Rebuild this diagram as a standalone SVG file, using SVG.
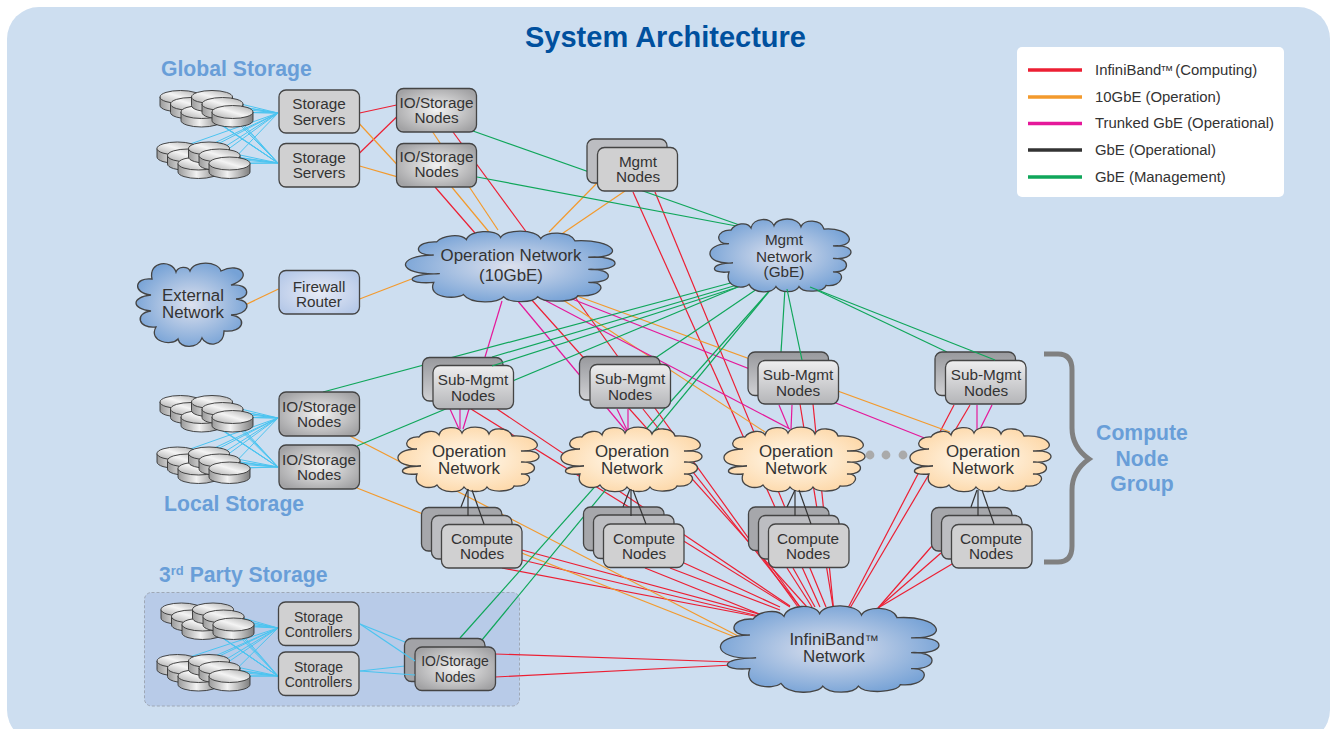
<svg xmlns="http://www.w3.org/2000/svg" width="1334" height="729" viewBox="0 0 1334 729">
<style>
text{font-family:"Liberation Sans",Arial,sans-serif;fill:#333;text-anchor:middle}
.n153{font-size:15.3px}.n14{font-size:14px}.n17{font-size:16.9px}
.h{font-weight:bold;fill:#699ed8;font-size:21.2px}
.start{text-anchor:start}
.lg{font-size:14.9px;text-anchor:start}
.bx{stroke:#444;stroke-width:1.3}
.flat{fill:#d0d0d1}.io{fill:url(#ioG)}.fw{fill:url(#fwG)}
.b1{fill:#a6a7ab}.b2{fill:#bcbdc1}.bm{fill:url(#backG)}.sm{fill:url(#subG)}
.cl{stroke:#444;stroke-width:1.3}
.cb{fill:url(#blueG)}.co{fill:url(#orangeG)}
line,.fan{stroke-width:1.2;fill:none}
.r{stroke:#ec1f33}.o{stroke:#f39a2d}.m{stroke:#e5189a}.k{stroke:#333}.g{stroke:#0fa65a}.c{stroke:#4cc4f0}
.fan{stroke:#4cc4f0;stroke-width:1}
.leg{stroke-width:3.5}
</style>
<defs>
<linearGradient id="diskSide" x1="0" x2="1" y1="0" y2="0"><stop offset="0" stop-color="#9a9a9a"/><stop offset=".45" stop-color="#f2f2f2"/><stop offset="1" stop-color="#7e7e7e"/></linearGradient>
<linearGradient id="diskTop" x1="0" x2="1" y1="1" y2="0"><stop offset="0" stop-color="#a8a8a8"/><stop offset=".5" stop-color="#f4f4f4"/><stop offset="1" stop-color="#a8a8a8"/></linearGradient>
<radialGradient id="ioG" cx=".5" cy=".5" r=".6"><stop offset="0" stop-color="#f2f2f2"/><stop offset="1" stop-color="#a2a2a4"/></radialGradient>
<radialGradient id="fwG" cx=".5" cy=".5" r=".6"><stop offset="0" stop-color="#e8ebf6"/><stop offset="1" stop-color="#b6c9e8"/></radialGradient>
<linearGradient id="backG" x1="0" x2="0" y1="0" y2="1"><stop offset="0" stop-color="#98999d"/><stop offset="1" stop-color="#d0d1d4"/></linearGradient>
<linearGradient id="subG" x1="0" x2="0" y1="0" y2="1"><stop offset="0" stop-color="#eeeeef"/><stop offset="1" stop-color="#b4b5b8"/></linearGradient>
<radialGradient id="blueG" cx=".5" cy=".5" r=".55"><stop offset="0" stop-color="#dde1ee"/><stop offset="1" stop-color="#76a2d6"/></radialGradient>
<radialGradient id="orangeG" cx=".5" cy=".5" r=".55"><stop offset="0" stop-color="#fffbf2"/><stop offset="1" stop-color="#fdd8a9"/></radialGradient>
<path id="cloud" vector-effect="non-scaling-stroke" d="M18 21C3 22 5 8 20 9C24 3 36 1 40 7C42-2 60-3 63 5C66-3 87-3 90 6C93-1 110-1 113 8C140 6 149 24 122 23C146 21 146 36 122 34C140 33 140 47 122 46C136 45 132 60 115 58C113 64 92 65 88 59C85 65 69 65 65 59C62 65 43 66 38 57C33 62 13 60 18 46C-2 48-2 38 22 38C-8 40-8 21 18 21Z"/>
<path id="cloudX" vector-effect="non-scaling-stroke" d="M16 16C12-2 36-4 40 9C42 3 52 3 54 8C58-3 82-2 85 8C105-2 118 15 95 22C115 20 115 36 100 36C118 38 112 52 95 52C112 54 108 70 88 68C88 84 70 84 66 75C62 86 44 86 42 76C35 84 12 78 20 64C2 66-2 50 15 48C-5 46-5 34 15 32C-4 30-2 14 16 16Z"/>
<g id="disk"><path d="M0 6.500V15A20.500 6.500 0 0 0 41 15V6.500Z" fill="url(#diskSide)" stroke="#333" stroke-width=".9"/><ellipse cx="20.500" cy="6.500" rx="20.500" ry="6.500" fill="url(#diskTop)" stroke="#333" stroke-width=".9"/></g>
<g id="stack"><use href="#disk"/><use href="#disk" x="10.500" y="7"/><use href="#disk" x="21" y="15"/><use href="#disk" x="31.500"/><use href="#disk" x="42" y="7"/><use href="#disk" x="52" y="15"/></g>
</defs>

<rect x="7" y="7" width="1323" height="735" rx="32" fill="#cddef0"/>
<rect id="third-party-panel" x="144.500" y="592.500" width="375" height="113.500" rx="7" fill="#b8cbe8" stroke="#9fa8b6" stroke-dasharray="3 2"/>

<g id="connectors">
<path class="fan" d="M180.500 97L278 113M191 104L278 113M201.500 112L278 113M212 97L278 113M222.500 104L278 113M232.500 112L278 113M180.500 97L278 163M191 104L278 163M201.500 112L278 163M212 97L278 163M222.500 104L278 163M232.500 112L278 163M177.500 148.500L278 113M188 155.500L278 113M198.500 163.500L278 113M209 148.500L278 113M219.500 155.500L278 113M229.500 163.500L278 113M177.500 148.500L278 163M188 155.500L278 163M198.500 163.500L278 163M209 148.500L278 163M219.500 155.500L278 163M229.500 163.500L278 163"/>
<path class="fan" d="M180.500 402L278 418M191 409L278 418M201.500 417L278 418M212 402L278 418M222.500 409L278 418M232.500 417L278 418M180.500 402L278 467M191 409L278 467M201.500 417L278 467M212 402L278 467M222.500 409L278 467M232.500 417L278 467M177.500 453.500L278 418M188 460.500L278 418M198.500 468.500L278 418M209 453.500L278 418M219.500 460.500L278 418M229.500 468.500L278 418M177.500 453.500L278 467M188 460.500L278 467M198.500 468.500L278 467M209 453.500L278 467M219.500 460.500L278 467M229.500 468.500L278 467"/>
<path class="fan" d="M181.500 609.500L278 628M192 616.500L278 628M202.500 624.500L278 628M213 609.500L278 628M223.500 616.500L278 628M233.500 624.500L278 628M181.500 609.500L278 676M192 616.500L278 676M202.500 624.500L278 676M213 609.500L278 676M223.500 616.500L278 676M233.500 624.500L278 676M177.500 661L278 628M188 668L278 628M198.500 676L278 628M209 661L278 628M219.500 668L278 628M229.500 676L278 628M177.500 661L278 676M188 668L278 676M198.500 676L278 676M209 661L278 676M219.500 668L278 676M229.500 676L278 676"/>
<line class="c" x1="360" y1="624" x2="405" y2="642"/><line class="c" x1="360" y1="671" x2="405" y2="666"/>

<line class="r" x1="359.600" y1="113" x2="396.600" y2="105"/>
<line class="r" x1="359.600" y1="153" x2="396.600" y2="117"/>
<line class="r" x1="453" y1="132" x2="530" y2="237"/>
<line class="r" x1="435" y1="187" x2="475" y2="233"/>
<line class="r" x1="633" y1="192" x2="820" y2="607"/>
<line class="r" x1="655" y1="192" x2="826" y2="607"/>
<line class="r" x1="530" y1="298" x2="807" y2="607"/>
<line class="r" x1="575" y1="297" x2="798" y2="607"/>
<line class="r" x1="643" y1="409" x2="800" y2="607"/>
<line class="r" x1="471" y1="409" x2="790" y2="607"/>
<line class="r" x1="497" y1="409" x2="790" y2="606"/>
<line class="r" x1="800" y1="404" x2="834" y2="613"/>
<line class="r" x1="813" y1="404" x2="834" y2="613"/>
<line class="r" x1="954" y1="405" x2="848" y2="608"/>
<line class="r" x1="970" y1="405" x2="850" y2="608"/>
<line class="r" x1="932" y1="546" x2="878" y2="608"/>
<line class="r" x1="941" y1="553" x2="878" y2="608"/>
<line class="r" x1="952" y1="564" x2="878" y2="608"/>
<line class="r" x1="522" y1="550" x2="770" y2="617"/>
<line class="r" x1="522" y1="560" x2="763" y2="617"/>
<line class="r" x1="502" y1="568" x2="760" y2="617"/>
<line class="r" x1="645" y1="568" x2="767" y2="617"/>
<line class="r" x1="670" y1="568" x2="780" y2="610"/>
<line class="r" x1="684" y1="563" x2="780" y2="607"/>
<line class="r" x1="768" y1="562" x2="800" y2="607"/>
<line class="r" x1="787" y1="568" x2="812" y2="607"/>
<line class="r" x1="793" y1="568" x2="815" y2="607"/>
<line class="r" x1="495" y1="654" x2="733" y2="662"/>
<line class="r" x1="495" y1="677" x2="733" y2="665"/>

<line class="o" x1="359.600" y1="124" x2="396.600" y2="164"/>
<line class="o" x1="359.600" y1="166" x2="396.600" y2="176.700"/>
<line class="o" x1="432.700" y1="132" x2="498" y2="230"/>
<line class="o" x1="451.700" y1="187" x2="489" y2="232"/>
<line class="o" x1="245" y1="305" x2="278.500" y2="289"/>
<line class="o" x1="359.600" y1="299" x2="411.600" y2="279"/>
<line class="o" x1="597" y1="183" x2="549" y2="232"/>
<line class="o" x1="625" y1="191" x2="561.700" y2="234"/>
<line class="o" x1="577" y1="296" x2="950" y2="432"/>
<line class="o" x1="560" y1="298" x2="765" y2="432"/>
<line class="o" x1="350" y1="436" x2="740" y2="637"/>
<line class="o" x1="357" y1="488" x2="735" y2="637"/>

<line class="m" x1="502" y1="301" x2="485" y2="357"/>
<line class="m" x1="517" y1="300" x2="627" y2="432"/>
<line class="m" x1="567" y1="297" x2="927" y2="439"/>
<line class="m" x1="535" y1="295" x2="790" y2="429"/>
<line class="m" x1="450" y1="409" x2="459" y2="429"/>
<line class="m" x1="460" y1="409" x2="460" y2="429"/>
<line class="m" x1="469" y1="409" x2="463" y2="429"/>
<line class="m" x1="617" y1="409" x2="627" y2="430"/>
<line class="m" x1="628" y1="409" x2="628" y2="430"/>
<line class="m" x1="779" y1="405" x2="789" y2="429"/>
<line class="m" x1="792" y1="405" x2="791" y2="429"/>
<line class="m" x1="977" y1="405" x2="977" y2="431"/>
<line class="m" x1="992" y1="405" x2="979" y2="431"/>

<line class="g" x1="473" y1="131" x2="748" y2="228"/>
<line class="g" x1="477" y1="177" x2="747" y2="228"/>
<line class="g" x1="323" y1="392" x2="738" y2="281"/>
<line class="g" x1="357" y1="446" x2="745" y2="284"/>
<line class="g" x1="492" y1="357" x2="737" y2="285"/>
<line class="g" x1="645" y1="365" x2="757" y2="289"/>
<line class="g" x1="460" y1="638" x2="772" y2="288"/>
<line class="g" x1="477" y1="646" x2="772" y2="288"/>
<line class="g" x1="781" y1="352" x2="785" y2="289"/>
<line class="g" x1="947" y1="352" x2="808" y2="286"/>
</g>

<g id="global-storage-disks-1"><use href="#stack" x="160" y="90.500"/></g>
<g id="global-storage-disks-2"><use href="#stack" x="157" y="142"/></g>
<g id="local-storage-disks-1"><use href="#stack" x="160" y="395.500"/></g>
<g id="local-storage-disks-2"><use href="#stack" x="157" y="447"/></g>
<g id="third-party-disks-1"><use href="#stack" x="161" y="603"/></g>
<g id="third-party-disks-2"><use href="#stack" x="157" y="654.500"/></g>

<g id="storage-servers-1"><rect class="bx flat" x="279" y="90" width="80.500" height="43" rx="7"/><text class="n153" x="319" y="109">Storage</text><text class="n153" x="319" y="125">Servers</text></g>
<g id="storage-servers-2"><rect class="bx flat" x="279" y="143.500" width="80.500" height="43.500" rx="7"/><text class="n153" x="319" y="163">Storage</text><text class="n153" x="319" y="178">Servers</text></g>
<g id="io-storage-1"><rect class="bx io" x="396.500" y="88.500" width="80" height="43.500" rx="7"/><text class="n153" x="436.500" y="108">IO/Storage</text><text class="n153" x="436.500" y="123">Nodes</text></g>
<g id="io-storage-2"><rect class="bx io" x="396.500" y="143.500" width="80" height="43.500" rx="7"/><text class="n153" x="436.500" y="162">IO/Storage</text><text class="n153" x="436.500" y="177">Nodes</text></g>
<g id="firewall-router"><rect class="bx fw" x="279" y="270.500" width="80.500" height="43.500" rx="7"/><text class="n153" x="319" y="291.500">Firewall</text><text class="n153" x="319" y="306.500">Router</text></g>
<g id="external-network"><use class="cl cb" href="#cloudX" transform="translate(136 263)"/><text class="n17" x="193" y="301">External</text><text class="n17" x="193" y="318">Network</text></g>
<g id="operation-network"><use class="cl cb" href="#cloud" transform="translate(407 232) scale(1.486 1.097)"/><text class="n17" x="511" y="261">Operation Network</text><text class="n17" x="511" y="281">(10GbE)</text></g>
<g id="mgmt-nodes"><rect class="bx b2" x="587" y="139" width="80" height="44" rx="7"/><rect class="bx flat" x="597.500" y="147.500" width="80" height="43.500" rx="7"/><text class="n153" x="638" y="167">Mgmt</text><text class="n153" x="638" y="182">Nodes</text></g>
<g id="mgmt-network"><use class="cl cb" href="#cloud" transform="translate(711 220) scale(1 1.129)"/><text class="n153" x="784" y="245">Mgmt</text><text class="n153" x="784" y="262">Network</text><text class="n153" x="784" y="277">(GbE)</text></g>

<g id="sub-mgmt-1"><rect class="bx bm" x="422.500" y="357.500" width="80.500" height="43.500" rx="7"/><rect class="bx sm" x="433" y="365.500" width="80.500" height="43.500" rx="7"/><text class="n153" x="473" y="385">Sub-Mgmt</text><text class="n153" x="473" y="401">Nodes</text></g>
<g id="sub-mgmt-2"><rect class="bx bm" x="579.500" y="356.500" width="80.500" height="43.500" rx="7"/><rect class="bx sm" x="590" y="364.500" width="80.500" height="43.500" rx="7"/><text class="n153" x="630" y="384">Sub-Mgmt</text><text class="n153" x="630" y="400">Nodes</text></g>
<g id="sub-mgmt-3"><rect class="bx bm" x="748" y="352" width="80.500" height="43.500" rx="7"/><rect class="bx sm" x="758" y="360.500" width="80.500" height="43.500" rx="7"/><text class="n153" x="798" y="380">Sub-Mgmt</text><text class="n153" x="798" y="396">Nodes</text></g>
<g id="sub-mgmt-4"><rect class="bx bm" x="935" y="352" width="80.500" height="43.500" rx="7"/><rect class="bx sm" x="945.500" y="360.500" width="80.500" height="43.500" rx="7"/><text class="n153" x="986" y="380">Sub-Mgmt</text><text class="n153" x="986" y="396">Nodes</text></g>

<g id="operation-network-1"><use class="cl co" href="#cloud" x="399" y="428"/><text class="n17" x="469" y="457">Operation</text><text class="n17" x="469" y="474">Network</text></g>
<g id="operation-network-2"><use class="cl co" href="#cloud" x="562" y="428"/><text class="n17" x="632" y="457">Operation</text><text class="n17" x="632" y="474">Network</text></g>
<g id="operation-network-3"><use class="cl co" href="#cloud" x="725" y="428"/><text class="n17" x="796" y="457">Operation</text><text class="n17" x="796" y="474">Network</text></g>
<g id="operation-network-4"><use class="cl co" href="#cloud" x="911" y="428"/><text class="n17" x="983" y="457">Operation</text><text class="n17" x="983" y="474">Network</text></g>

<g id="ellipsis" fill="#aaaaaa"><circle cx="870" cy="455" r="4.400"/><circle cx="886" cy="455" r="4.400"/><circle cx="903" cy="455" r="4.400"/></g>

<g id="compute-nodes-1"><rect class="bx b1" x="421.500" y="507.500" width="80.500" height="43.500" rx="7"/><rect class="bx b2" x="431.500" y="515.500" width="80.500" height="43.500" rx="7"/><rect class="bx flat" x="441.500" y="524.500" width="80.500" height="43.500" rx="7"/><text class="n153" x="482" y="544">Compute</text><text class="n153" x="482" y="559">Nodes</text></g>
<g id="compute-nodes-2"><rect class="bx b1" x="583.500" y="507" width="80.500" height="43.500" rx="7"/><rect class="bx b2" x="593.500" y="515" width="80.500" height="43.500" rx="7"/><rect class="bx flat" x="603.500" y="524" width="80.500" height="43.500" rx="7"/><text class="n153" x="644" y="544">Compute</text><text class="n153" x="644" y="559">Nodes</text></g>
<g id="compute-nodes-3"><rect class="bx b1" x="748.500" y="507" width="80.500" height="43.500" rx="7"/><rect class="bx b2" x="758.500" y="515.500" width="80.500" height="43.500" rx="7"/><rect class="bx flat" x="768.500" y="524" width="80.500" height="43.500" rx="7"/><text class="n153" x="808" y="544">Compute</text><text class="n153" x="808" y="559">Nodes</text></g>
<g id="compute-nodes-4"><rect class="bx b1" x="931.500" y="507.500" width="80.500" height="43.500" rx="7"/><rect class="bx b2" x="941.500" y="515.500" width="80.500" height="43.500" rx="7"/><rect class="bx flat" x="951.500" y="524.500" width="80.500" height="43.500" rx="7"/><text class="n153" x="991" y="544">Compute</text><text class="n153" x="991" y="559">Nodes</text></g>

<g id="local-io-storage-1"><rect class="bx io" x="279" y="392" width="80.500" height="44" rx="7"/><text class="n153" x="319" y="412">IO/Storage</text><text class="n153" x="319" y="427">Nodes</text></g>
<g id="local-io-storage-2"><rect class="bx io" x="279" y="445" width="80.500" height="44" rx="7"/><text class="n153" x="319" y="465">IO/Storage</text><text class="n153" x="319" y="480">Nodes</text></g>
<g id="storage-controllers-1"><rect class="bx flat" x="278.500" y="602" width="80.500" height="43.500" rx="7"/><text class="n14" x="318.500" y="622">Storage</text><text class="n14" x="318.500" y="637">Controllers</text></g>
<g id="storage-controllers-2"><rect class="bx flat" x="278.500" y="652" width="80.500" height="43.500" rx="7"/><text class="n14" x="318.500" y="672">Storage</text><text class="n14" x="318.500" y="687">Controllers</text></g>
<g id="third-party-io-storage"><rect class="bx" fill="#a2a3a7" x="404.500" y="638.500" width="80.500" height="43" rx="7"/><rect class="bx io" x="415" y="647" width="80.500" height="43.500" rx="7"/><text class="n14" x="455" y="666">IO/Storage</text><text class="n14" x="455" y="682">Nodes</text></g>
<g id="infiniband-network"><use class="cl cb" href="#cloud" transform="translate(722 607) scale(1.55 1.34)"/><text class="n17" x="834" y="645">InfiniBand<tspan font-size="14">™</tspan></text><text class="n17" x="834" y="662">Network</text></g>

<g id="connectors-over">
<line class="c" x1="360" y1="624" x2="415" y2="661"/>
<line class="c" x1="360" y1="671" x2="415" y2="675"/>
<line class="g" x1="492" y1="366" x2="738" y2="287"/>
<line class="g" x1="802" y1="360" x2="787" y2="289"/>
<line class="g" x1="995" y1="360" x2="810" y2="287"/>
<line class="k" x1="468" y1="489" x2="461" y2="507"/><line class="k" x1="468" y1="489" x2="468" y2="516"/><line class="k" x1="472" y1="490" x2="484" y2="524"/>
<line class="k" x1="630" y1="489" x2="623" y2="507"/><line class="k" x1="631" y1="489" x2="631" y2="516"/><line class="k" x1="633" y1="490" x2="646" y2="524"/>
<line class="k" x1="795" y1="490" x2="787" y2="507"/><line class="k" x1="795" y1="490" x2="795" y2="516"/><line class="k" x1="799" y1="490" x2="811" y2="524"/>
<line class="k" x1="977" y1="490" x2="971" y2="507"/><line class="k" x1="978" y1="490" x2="978" y2="516"/><line class="k" x1="982" y1="490" x2="994" y2="524"/>
</g>

<path id="compute-brace" d="M1044 354H1058Q1072 354 1072 370V428Q1072 447 1089 459Q1072 471 1072 490V546Q1072 562 1058 562H1044" fill="none" stroke="#808080" stroke-width="5"/>

<text x="665.500" y="47" style="font-size:29px;font-weight:bold;fill:#00509e">System Architecture</text>
<text class="h start" x="161" y="76">Global Storage</text>
<text class="h start" x="164" y="511">Local Storage</text>
<text class="h start" x="159" y="582">3<tspan font-size="13" dy="-7">rd</tspan><tspan dy="7"> Party Storage</tspan></text>
<text class="h" x="1142" y="440">Compute</text><text class="h" x="1142" y="466">Node</text><text class="h" x="1142" y="491">Group</text>

<g id="legend">
<rect x="1017" y="47" width="267" height="150" rx="5" fill="#fff"/>
<line class="r leg" x1="1028" y1="70" x2="1082" y2="70"/><text class="lg" x="1095" y="75">InfiniBand<tspan font-size="13" dx="-1">™</tspan><tspan dx="-2"> (Computing)</tspan></text>
<line class="o leg" x1="1028" y1="97" x2="1082" y2="97"/><text class="lg" x="1095" y="102">10GbE (Operation)</text>
<line class="m leg" x1="1028" y1="123.500" x2="1082" y2="123.500"/><text class="lg" x="1095" y="128">Trunked GbE (Operational)</text>
<line class="k leg" x1="1028" y1="150" x2="1082" y2="150"/><text class="lg" x="1095" y="155">GbE (Operational)</text>
<line class="g leg" x1="1028" y1="177" x2="1082" y2="177"/><text class="lg" x="1095" y="182">GbE (Management)</text>
</g>
</svg>
